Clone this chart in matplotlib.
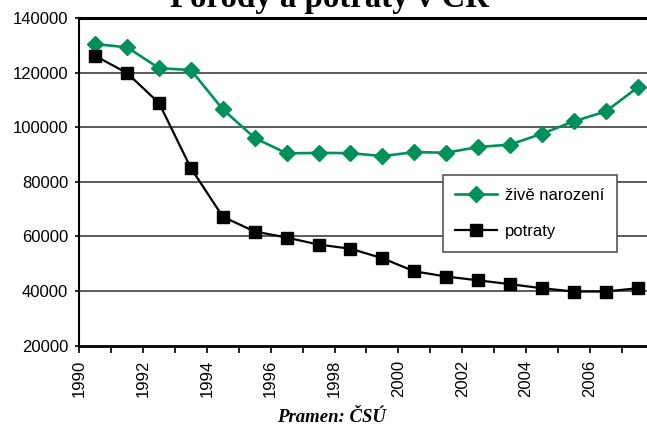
import matplotlib
matplotlib.use('Agg')
import matplotlib.pyplot as plt
import numpy as np

# Data
roky = list(range(1990, 2008))
zive_narozeni = [130564, 129354, 121705, 121025, 106579, 96097, 90446, 90657, 90535,
                 89471, 90910, 90715, 92786, 93685, 97664, 102211, 105831, 114632]
potraty = [126200, 119900, 108900, 85000, 67200, 61800, 59600, 57000, 55500,
           52000, 47200, 45300, 43900, 42500, 41000, 39800, 39800, 41000]

plt.rcParams['font.family'] = ['Liberation Sans', 'DejaVu Sans']

fig = plt.figure(figsize=(6.47, 4.25), dpi=100)
W, H = 647.0, 425.0
left, right, top, bottom = 79.3, 653.6, 18.3, 345.5
ax = fig.add_axes([left / W, 1 - bottom / H, (right - left) / W, (bottom - top) / H])

x = np.array(roky) + 0.5
green = '#00905a'
ax.plot(x, zive_narozeni, color=green, lw=1.9, marker='D', markersize=8,
        label='živě narození', zorder=3)
ax.plot(x, potraty, color='black', lw=1.6, marker='s', markersize=8,
        label='potraty', zorder=3)

ax.set_xlim(1990, 2008)
ax.set_ylim(20000, 140000)
ax.set_yticks(range(20000, 140001, 20000))
ax.set_xticks(range(1990, 2008, 2))
ax.set_xticks(range(1990, 2009), minor=True)
ax.set_xticklabels([str(r) for r in range(1990, 2008, 2)], rotation=90)

ax.tick_params(axis='y', labelsize=12, length=3, width=1.2, pad=5, direction='out')
ax.tick_params(axis='x', which='both', labelsize=12, length=5, width=1.2, pad=5,
               direction='out')

for v in range(40000, 140000, 20000):
    ax.axhline(v, color='#404040', lw=1.2, zorder=1)

ax.spines['top'].set_linewidth(2.2)
ax.spines['bottom'].set_linewidth(2.0)
ax.spines['left'].set_linewidth(1.5)
ax.spines['right'].set_visible(False)

leg = ax.legend(loc='upper left', bbox_to_anchor=(0.633, 0.521), borderaxespad=0,
                fontsize=12, frameon=True, fancybox=False, handlelength=2.5,
                handletextpad=0.5, labelspacing=1.3, borderpad=0.75)
leg.get_frame().set_edgecolor('#555555')
leg.get_frame().set_linewidth(1.2)
leg.get_frame().set_alpha(1)

fig.text(330 / W, 1 - 7 / H, 'Porody a potraty v ČR', ha='center', va='baseline',
         family='Liberation Serif', weight='bold', fontsize=23.7)
fig.text(331 / W, 1 - 421.5 / H, 'Pramen: ČSÚ', ha='center', va='baseline',
         family='Liberation Serif', style='italic', weight='bold', fontsize=13.5)

fig.savefig('out.png', dpi=100)
